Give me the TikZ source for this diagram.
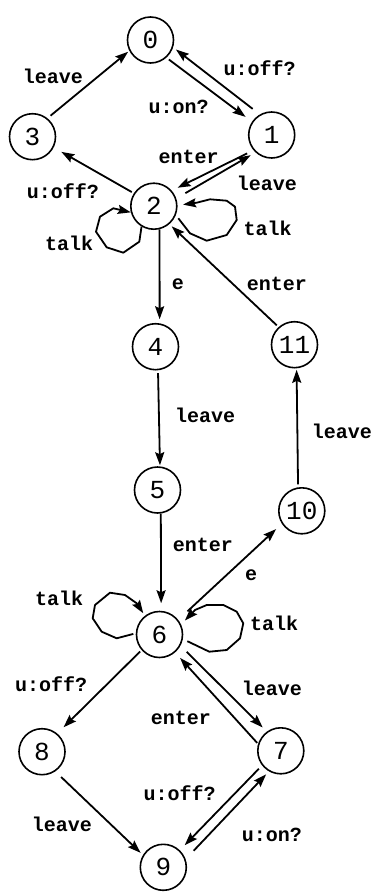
\documentclass[tikz,border=0pt]{standalone}
\usepackage{fontspec}
\setmonofont{Liberation Mono}
\usetikzlibrary{arrows.meta,calc}
\begin{document}
\begin{tikzpicture}[x=1pt,y=-1pt,
  state/.style={draw, circle, line width=1.6pt, minimum size=46pt, inner sep=0pt,
                font=\ttfamily\fontsize{26}{26}\selectfont},
  lbl/.style={anchor=base west, inner sep=0pt,
              font=\ttfamily\bfseries\fontsize{20}{20}\selectfont},
  tr/.style={line width=1.8pt, line join=round,
             -{Stealth[length=13pt,width=9pt,inset=2pt]}}
]
\useasboundingbox (0,0) rectangle (374,892);

% states
\node[state] (n0)  at (150.5,40)    {0};
\node[state] (n1)  at (271.7,135)   {1};
\node[state] (n3)  at (32.5,136.7)  {3};
\node[state] (n2)  at (153.8,206.2) {2};
\node[state] (n4)  at (155.5,346.7) {4};
\node[state] (n11) at (294.5,344.7) {11};
\node[state] (n5)  at (157.5,490)   {5};
\node[state] (n10) at (301.8,510.8) {10};
\node[state] (n6)  at (159.5,634.5) {6};
\node[state] (n8)  at (42,751.7)    {8};
\node[state] (n7)  at (280.8,750.8) {7};
\node[state] (n9)  at (163.3,867.3) {9};

% transitions
\draw[tr, shorten <=4pt,  shorten >=1.5pt] (n3.51)   -- (n0.207);
\draw[tr, shorten <=3pt,  shorten >=8pt]   (n0.-48)  -- (n1.146);
\draw[tr, shorten <=9pt,  shorten >=3.5pt] (n1.120)  -- (n0.-18);
\draw[tr, shorten <=7pt,  shorten >=6.5pt] (n1.220)  -- (n2.41);
\draw[tr, shorten <=10.5pt, shorten >=5.5pt] (n2.19) -- (n1.227);
\draw[tr, shorten <=2.4pt, shorten >=8.8pt] (n2.147) -- (n3.-27);
\draw[tr, shorten >=4pt]                   (n2.-76)  -- (n4.80);
\draw[tr, shorten <=2.5pt, shorten >=3.2pt] (n11.132) -- (n2.-49);
\draw[tr, shorten <=2.7pt, shorten >=1.1pt] (n4.-84) -- (n5.84);
\draw[tr, shorten >=7.5pt]                 (n5.-82)  -- (n6.86);
\draw[tr, shorten <=12.5pt, shorten >=7.8pt] (n6.38) -- (n10.213);
\draw[tr, shorten <=3pt,  shorten >=1.4pt] (n10.99)  -- (n11.-85);
\draw[tr, shorten <=2pt,  shorten >=8.8pt] (n6.221)  -- (n8.50);
\draw[tr, shorten <=8pt,  shorten >=3.2pt] (n8.-56)  -- (n9.149);
\draw[tr, shorten <=8.7pt, shorten >=5.8pt] (n6.-28) -- (n7.126);
\draw[tr, shorten <=1.2pt, shorten >=7.4pt] (n7.163) -- (n6.-49);
\draw[tr, shorten <=4.5pt, shorten >=7pt]  (n7.218)  -- (n9.46);
\draw[tr, shorten <=11.6pt, shorten >=4pt] (n9.20)   -- (n7.240);

% self loops (talk)
\draw[tr] (n2.239) -- ($(n2)+(-14.5,35.5)$) -- ($(n2)+(-30.5,46.5)$)
  -- ($(n2)+(-47.1,41.1)$) -- ($(n2)+(-57.8,25.5)$) -- ($(n2)+(-53.8,10.5)$)
  -- ($(n2)+(-40.5,2.1)$) -- (n2.195);
\draw[tr, shorten <=4pt, shorten >=5.5pt] (n2.-22) -- ($(n2)+(36.2,27.1)$)
  -- ($(n2)+(52.9,34.5)$) -- ($(n2)+(72.9,28.8)$) -- ($(n2)+(82.9,13.8)$)
  -- ($(n2)+(81.2,0.5)$) -- ($(n2)+(72.9,-5.5)$) -- ($(n2)+(56.2,-6.9)$)
  -- ($(n2)+(42.9,-3.5)$) -- (n2.2);
\draw[tr, shorten <=2.5pt, shorten >=3pt] (n6.177) -- ($(n6)+(-42.8,3.8)$)
  -- ($(n6)+(-57.8,-2.8)$) -- ($(n6)+(-66.8,-16.2)$) -- ($(n6)+(-64.5,-29.5)$)
  -- ($(n6)+(-49.5,-41.8)$) -- ($(n6)+(-34.5,-39.5)$) -- ($(n6)+(-22.8,-31.2)$)
  -- (n6.128);
\draw[tr, shorten <=5pt, shorten >=5.5pt] (n6.-11) -- ($(n6)+(49.8,17.2)$)
  -- ($(n6)+(67.2,15.5)$) -- ($(n6)+(80.5,3.8)$) -- ($(n6)+(83.8,-11.2)$)
  -- ($(n6)+(77.2,-22.8)$) -- ($(n6)+(63.8,-29.5)$) -- ($(n6)+(47.2,-29.5)$)
  -- ($(n6)+(35.5,-24.5)$) -- (n6.25);

% labels
\node[lbl] (l30)  at (22.7,83.3)   {leave};
\node[lbl] (l10)  at (223.3,75)    {u:off?};
\node[lbl] (l01)  at (148.3,113.3) {u:on?};
\node[lbl] (l12)  at (158.3,163.3) {enter};
\node[lbl] (l21)  at (236.7,190.7) {leave};
\node[lbl] (l23)  at (26.7,198.3)  {u:off?};
\node[lbl] (l2a)  at (45,250.7)    {talk};
\node[lbl] (l2b)  at (243.3,235)   {talk};
\node[lbl] (l24)  at (171.7,289.3) {e};
\node[lbl] (l112) at (246.7,290)   {enter};
\node[lbl] (l45)  at (175,422.7)   {leave};
\node[lbl] (l1011) at (311.7,438.3) {leave};
\node[lbl] (l56)  at (172.7,551.7) {enter};
\node[lbl] (l610) at (245,580)     {e};
\node[lbl] (l6a)  at (35,605)      {talk};
\node[lbl] (l6b)  at (250,630)     {talk};
\node[lbl] (l68)  at (15,691.7)    {u:off?};
\node[lbl] (l67)  at (241.7,695)   {leave};
\node[lbl] (l76)  at (150.7,724)   {enter};
\node[lbl] (l79)  at (143.3,800.7) {u:off?};
\node[lbl] (l89)  at (31.7,831.7)  {leave};
\node[lbl] (l97)  at (241.7,841.7) {u:on?};
\end{tikzpicture}
\end{document}
